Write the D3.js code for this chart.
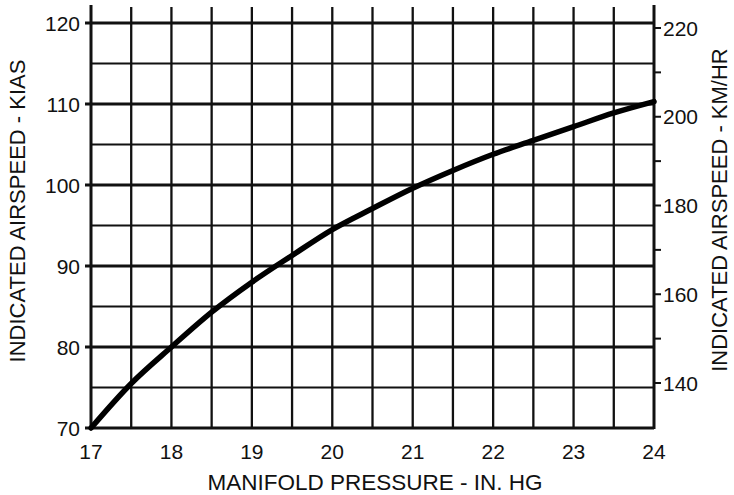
<!DOCTYPE html>
<html lang="en">
<head>
    <meta charset="UTF-8">
    <title>Airspeed vs Manifold Pressure</title>
    <script src="https://d3js.org/d3.v7.min.js"></script>
    <style>
        body { margin: 0; background: white; }
        text { font-family: "Liberation Sans", Arial, sans-serif; fill: #111; }
    </style>
</head>
<body>
    <svg width="734" height="495" id="chart"></svg>
    <script>
        // values
        const pressure = [17, 17.5, 18, 18.5, 19, 19.5, 20, 20.5, 21, 21.5, 22, 22.5, 23, 23.5, 24];
        const kias = [70, 75.5, 80, 84.3, 88.0, 91.3, 94.5, 97.1, 99.6, 101.8, 103.8, 105.5, 107.2, 108.9, 110.3];
        const xTicks = [17, 18, 19, 20, 21, 22, 23, 24];
        const yTicks = [70, 80, 90, 100, 110, 120];
        const kmhTicks = [140, 160, 180, 200, 220];
        const kmhMinor = [150, 170, 190, 210];

        const svg = d3.select("#chart");
        const plotLeft = 91, plotRight = 654, plotTop = 23, plotBottom = 428;

        const x = d3.scaleLinear().domain([17, 24]).range([plotLeft, plotRight]);
        const y = d3.scaleLinear().domain([70, 120]).range([plotBottom, plotTop]);
        // right scale fitted to where the km/hr labels sit
        const y2 = d3.scaleLinear().domain([140, 220]).range([383, 28]);

        // vertical grid lines every 0.5 in. hg, running a bit above the top line
        const vGrid = d3.range(17, 24.01, 0.5);
        svg.append("g").selectAll("line").data(vGrid).join("line")
            .attr("x1", d => x(d)).attr("x2", d => x(d))
            .attr("y1", plotBottom + 1).attr("y2", d => (d === 17 || d === 24) ? 5 : 7)
            .attr("stroke", "#111")
            .attr("stroke-width", d => (d === 17 || d === 24) ? 3 : 2.3);

        // horizontal grid every 5 kts, majors a touch heavier and poking out left
        const hGrid = d3.range(70, 120.01, 5);
        svg.append("g").selectAll("line").data(hGrid).join("line")
            .attr("x1", d => d % 10 === 0 ? plotLeft - 6 : plotLeft).attr("x2", plotRight)
            .attr("y1", d => y(d)).attr("y2", d => y(d))
            .attr("stroke", "#111")
            .attr("stroke-width", d => d === 70 ? 3.2 : (d % 10 === 0 ? 2.8 : 2.1));

        // left tick labels
        svg.append("g").selectAll("text").data(yTicks).join("text")
            .attr("x", 80).attr("y", d => y(d)).attr("dy", "0.36em")
            .attr("text-anchor", "end").attr("font-size", 21)
            .text(d => d);

        // bottom tick labels
        svg.append("g").selectAll("text").data(xTicks).join("text")
            .attr("x", d => x(d)).attr("y", 459)
            .attr("text-anchor", "middle").attr("font-size", 21)
            .text(d => d);

        // right axis ticks and labels
        svg.append("g").selectAll("line").data(kmhTicks.concat(kmhMinor)).join("line")
            .attr("x1", plotRight).attr("x2", plotRight + 7)
            .attr("y1", d => y2(d)).attr("y2", d => y2(d))
            .attr("stroke", "#111").attr("stroke-width", 2);
        svg.append("g").selectAll("text").data(kmhTicks).join("text")
            .attr("x", plotRight + 9).attr("y", d => y2(d)).attr("dy", "0.36em")
            .attr("text-anchor", "start").attr("font-size", 21)
            .text(d => d);

        // the curve
        const line = d3.line()
            .x((d, i) => x(pressure[i]))
            .y(d => y(d))
            .curve(d3.curveMonotoneX);
        svg.append("path").datum(kias)
            .attr("d", line)
            .attr("fill", "none")
            .attr("stroke", "#000")
            .attr("stroke-width", 5.5)
            .attr("stroke-linecap", "round");

        // axis titles
        svg.append("text")
            .attr("x", 375).attr("y", 490)
            .attr("text-anchor", "middle").attr("font-size", 22.5)
            .text("MANIFOLD PRESSURE - IN. HG");

        svg.append("text")
            .attr("transform", "translate(25,211) rotate(-90)")
            .attr("text-anchor", "middle").attr("font-size", 22)
            .text("INDICATED AIRSPEED - KIAS");

        svg.append("text")
            .attr("transform", "translate(727,210) rotate(-90)")
            .attr("text-anchor", "middle").attr("font-size", 22)
            .text("INDICATED AIRSPEED - KM/HR");
    </script>
</body>
</html>
